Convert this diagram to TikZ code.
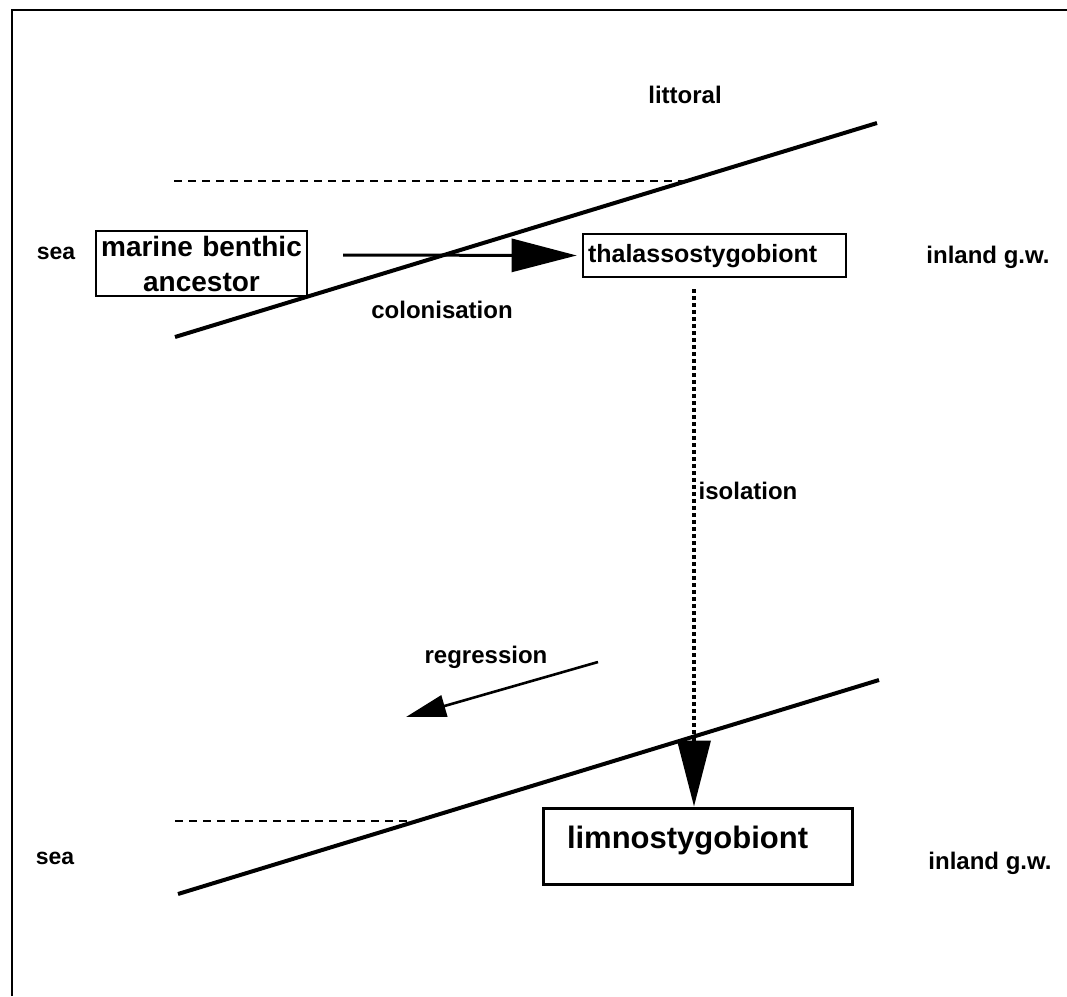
\documentclass[tikz,border=0pt]{standalone}
\usepackage{fontspec}
\setmainfont{Liberation Sans}
\usetikzlibrary{arrows.meta}
\begin{document}
\begin{tikzpicture}[x=1pt,y=-1pt,
  lbl/.style={font=\fontsize{24}{28}\selectfont\bfseries},
  habitat/.style={draw, line width=2.6pt, inner sep=0pt},
  shore/.style={line width=4pt},
  sealevel/.style={line width=2.4pt, dash pattern=on 8pt off 6pt}]
\useasboundingbox (0,0) rectangle (1067,996);
\draw[line width=2.8pt] (12,996) -- (12,10) -- (1067,10);
\node[habitat, align=center, text width=211pt, minimum height=65pt, font=\fontsize{28}{35}\selectfont\bfseries] (anc) at (201.5,263.5) {marine benthic\\ancestor};
\node[habitat, align=left, text width=253pt, inner xsep=5pt, text height=28pt, text depth=15pt, font=\fontsize{25}{30}\selectfont\bfseries] (thal) at (714.5,255.5) {thalassostygobiont};
\node[habitat, line width=3pt, align=left, text width=261pt, inner xsep=24pt, text height=40pt, text depth=36pt, font=\fontsize{31}{36}\selectfont\bfseries] (limno) at (697.5,846) {limnostygobiont};
\node[lbl] (littoral) at (685,95) {littoral};
\node[lbl, font=\fontsize{23}{28}\selectfont\bfseries] (seatop) at (56,253) {sea};
\node[lbl] (inlandtop) at (988,257) {inland g.w.};
\node[lbl] (colon) at (442,310) {colonisation};
\node[lbl] (iso) at (748,491) {isolation};
\node[lbl] (regr) at (486,657) {regression};
\node[lbl, font=\fontsize{23}{28}\selectfont\bfseries] (seabot) at (55,858) {sea};
\node[lbl] (inlandbot) at (990,863) {inland g.w.};
\draw[sealevel] (174,181) -- (688,181);
\draw[shore] (175,337) -- (877,123);
\draw[sealevel] (175,821) -- (418,821);
\draw[shore] (178,894) -- (879,680);
\coordinate (colstart) at (343,255);
\draw[line width=3pt, shorten >=5pt, -{Triangle[length=65pt,width=33pt]}] (colstart) -- (thal.west);
\coordinate (isotop) at (694,289);
\draw[line width=3.5pt, dash pattern=on 4pt off 3pt, -{Triangle[length=66pt,width=33pt]}] (isotop) -- (isotop |- limno.north);
\coordinate (regstart) at (598,662);
\coordinate (regend) at (406,717);
\draw[line width=2.6pt, -{Triangle[length=40pt,width=22pt]}] (regstart) -- (regend);
\end{tikzpicture}
\end{document}
